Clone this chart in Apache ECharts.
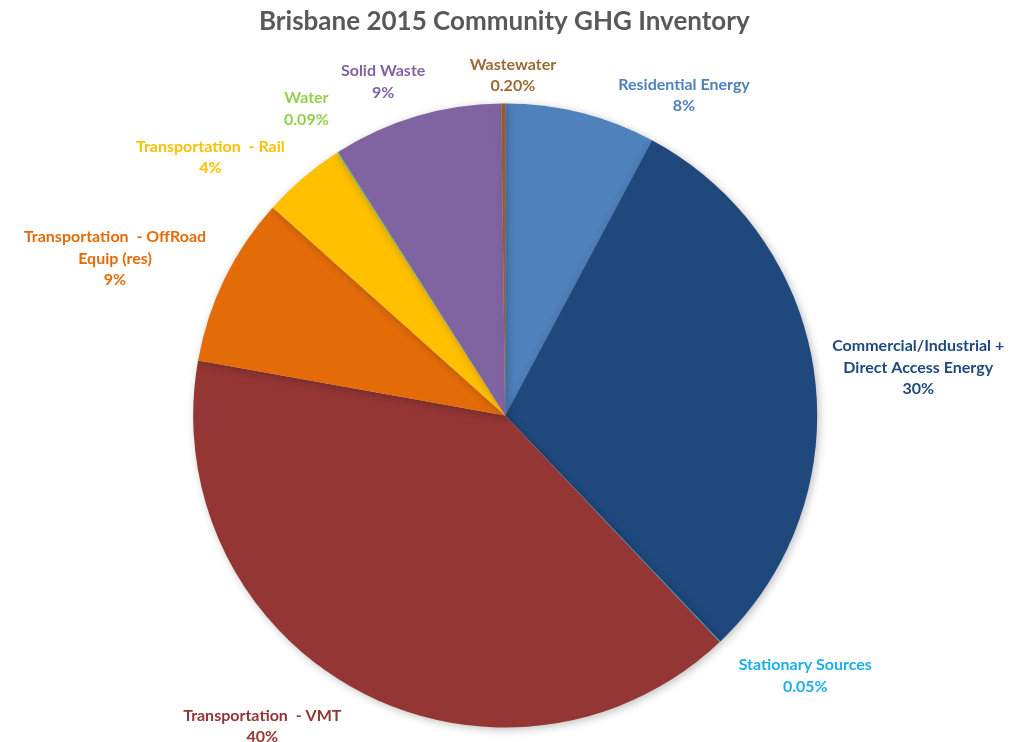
<!DOCTYPE html>
<html>
<head>
<meta charset="utf-8">
<script src="https://cdn.jsdelivr.net/npm/echarts@6/dist/echarts.min.js"></script>
<style>html,body{margin:0;padding:0;background:#fff;}#c{width:1031px;height:742px;}</style>
</head>
<body>
<div id="c"></div>
<script>
const categories = [
  'Residential Energy',
  'Commercial/Industrial +\nDirect Access Energy',
  'Stationary Sources',
  'Transportation  - VMT',
  'Transportation  - OffRoad\nEquip (res)',
  'Transportation  - Rail',
  'Water',
  'Solid Waste',
  'Wastewater'
];
const values = [7.8, 30.1, 0.05, 39.9, 8.8, 4.3, 0.09, 8.8, 0.2];
const pctLabels = ['8%', '30%', '0.05%', '40%', '9%', '4%', '0.09%', '9%', '0.20%'];
const colors = ['#4F81BD', '#1F497D', '#00B0F0', '#943634', '#E36C09', '#FFC000', '#92D050', '#8064A2', '#9B5A23'];
const labelColors = ['#4F81BD', '#1F497D', '#1AAFE6', '#943634', '#E36C09', '#FFC000', '#92D050', '#8064A2', '#9B6A35'];
// label nudges (px) relative to the library's outside placement
const labelNudges = [[29, -4], [-1, -4], [4, 24], [-4, 24], [-1, -14], [-4, -10], [4, -32], [18, -21], [58, -14]];

const chart = echarts.init(document.getElementById('c'), null, {renderer: 'canvas'});
chart.setOption({
  animation: false,
  title: {
    text: 'Brisbane 2015 Community GHG Inventory',
    left: 254, top: 4,
    textStyle: {fontFamily: 'Lato', fontWeight: 'bold', fontSize: 26, color: '#595959'}
  },
  series: [{
    type: 'pie',
    center: ['49%', '56%'],
    radius: 312,
    startAngle: 90,
    clockwise: true,
    avoidLabelOverlap: false,
    data: categories.map((n, i) => ({
      name: n, value: values[i],
      itemStyle: {color: colors[i]},
      label: {color: labelColors[i]}
    })),
    itemStyle: {shadowBlur: 8, shadowColor: 'rgba(0,0,0,0.25)', shadowOffsetX: 2, shadowOffsetY: 2},
    label: {
      show: true, position: 'outside',
      fontFamily: 'Lato', fontWeight: 'bold', fontSize: 16, lineHeight: 21.5,
      formatter: p => p.name + '\n' + pctLabels[p.dataIndex]
    },
    labelLine: {show: false, length: 14, length2: 0},
    labelLayout: function (params) {
      const r = params.labelRect;
      const o = labelNudges[params.dataIndex];
      return {x: r.x + r.width / 2 + o[0], y: r.y + r.height / 2 + o[1], align: 'center', verticalAlign: 'middle'};
    },
    emphasis: {disabled: true}
  }]
});
</script>
</body>
</html>
